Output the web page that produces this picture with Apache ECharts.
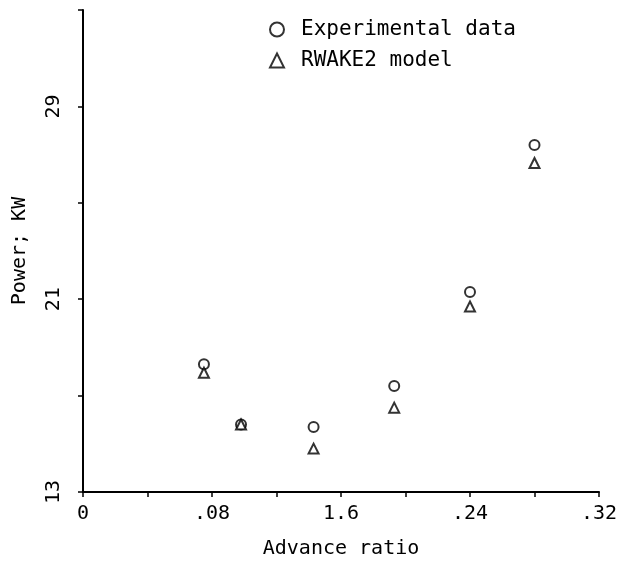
<!DOCTYPE html>
<html>
<head>
<meta charset="utf-8">
<script src="https://cdn.jsdelivr.net/npm/echarts@6/dist/echarts.min.js"></script>
<style>
  html, body { margin: 0; padding: 0; background: #fff; }
  #chart { width: 618px; height: 563px; }
</style>
</head>
<body>
<div id="chart"></div>
<script>
// 数据
var advanceRatio = [0.075, 0.098, 0.143, 0.193, 0.240, 0.280];
var experimental = [18.3, 15.8, 15.7, 17.4, 21.3, 27.4];
var rwake2 = [17.95, 15.8, 14.8, 16.5, 20.7, 26.65];

// 刻度
var xTicks = [0, 0.04, 0.08, 0.12, 0.16, 0.20, 0.24, 0.28, 0.32];
var xLabelValues = [0, 0.08, 0.16, 0.24, 0.32];
var xLabelTexts = ['0', '.08', '1.6', '.24', '.32'];
var yTicks = [13, 17, 21, 25, 29, 33];
var yLabelValues = [13, 21, 29];

var font = 'DejaVu Sans Mono';

function pairs(xs, ys) {
  return xs.map(function (x, i) { return [x, ys[i]]; });
}

var chart = echarts.init(document.getElementById('chart'));

var option = {
  animation: false,
  backgroundColor: '#fff',
  textStyle: { fontFamily: font, color: '#000' },
  grid: { left: 83, right: 19, top: 10, bottom: 71, containLabel: false, outerBoundsMode: 'none' },
  legend: {
    orient: 'vertical',
    left: 264,
    top: 14,
    itemWidth: 14,
    itemHeight: 14,
    itemGap: 10,
    textStyle: { fontFamily: font, fontSize: 21, color: '#000', padding: [0, 0, 0, 12] },
    data: ['Experimental data', 'RWAKE2 model']
  },
  xAxis: {
    type: 'value',
    min: 0,
    max: 0.32,
    name: 'Advance ratio',
    nameLocation: 'middle',
    nameGap: 47,
    nameTextStyle: { fontFamily: font, fontSize: 20, color: '#000' },
    splitLine: { show: false },
    axisLine: { lineStyle: { color: '#000', width: 2 } },
    axisTick: { length: 5, lineStyle: { color: '#000', width: 1.5 }, customValues: xTicks },
    axisLabel: {
      customValues: xLabelValues,
      fontFamily: font,
      fontSize: 20,
      color: '#000',
      margin: 12,
      formatter: function (v) {
        var i = xLabelValues.findIndex(function (t) { return Math.abs(t - v) < 1e-9; });
        return i >= 0 ? xLabelTexts[i] : '';
      }
    }
  },
  yAxis: {
    type: 'value',
    min: 13,
    max: 33,
    name: 'Power; KW',
    nameLocation: 'middle',
    nameGap: 53,
    nameRotate: 90,
    nameTextStyle: { fontFamily: font, fontSize: 20, color: '#000' },
    splitLine: { show: false },
    axisLine: { lineStyle: { color: '#000', width: 2 } },
    axisTick: { length: 5, lineStyle: { color: '#000', width: 1.5 }, customValues: yTicks },
    axisLabel: {
      customValues: yLabelValues,
      rotate: 90,
      fontFamily: font,
      fontSize: 20,
      color: '#000',
      margin: 19
    }
  },
  series: [
    {
      name: 'Experimental data',
      type: 'scatter',
      symbol: 'emptyCircle',
      symbolSize: 10,
      itemStyle: { color: '#000', borderColor: '#000', borderWidth: 2.2 },
      data: pairs(advanceRatio, experimental)
    },
    {
      name: 'RWAKE2 model',
      type: 'scatter',
      symbol: 'emptyTriangle',
      symbolSize: 10,
      itemStyle: { color: '#000', borderColor: '#000', borderWidth: 2.2 },
      data: pairs(advanceRatio, rwake2)
    }
  ]
};

chart.setOption(option);
</script>
</body>
</html>
